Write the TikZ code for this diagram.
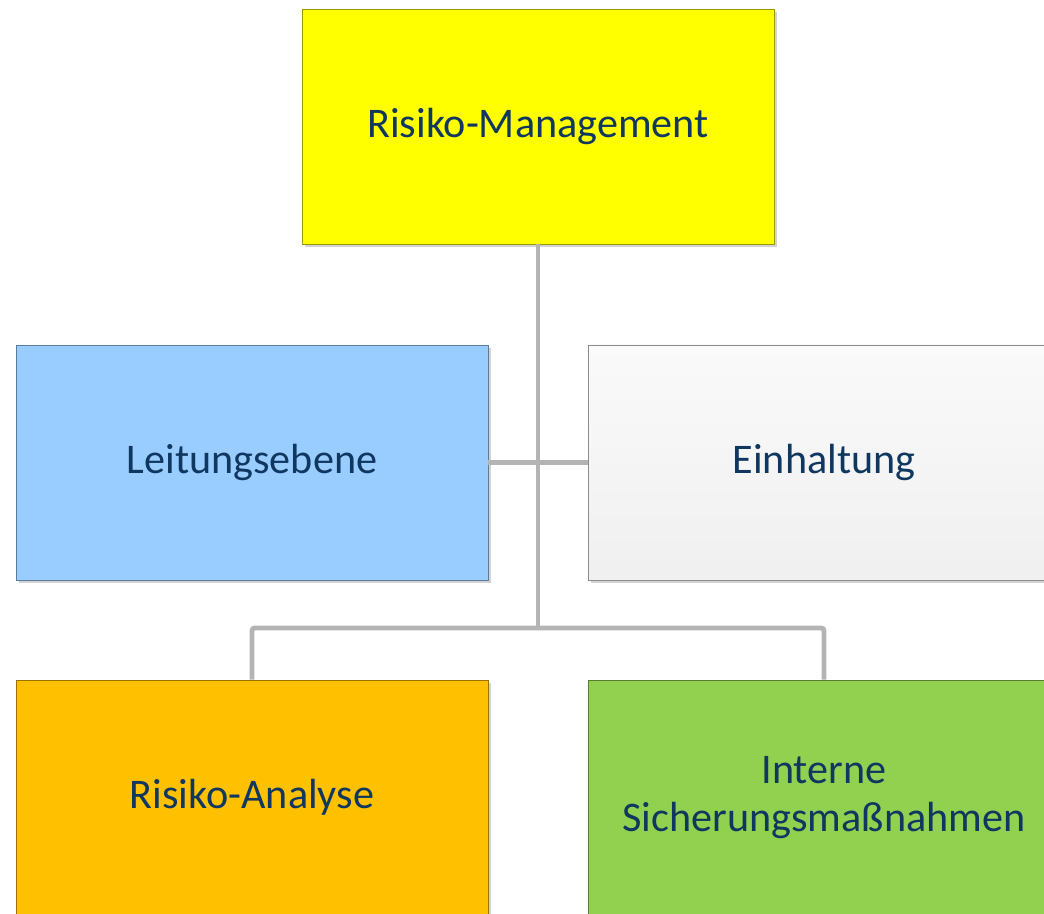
\documentclass[tikz,border=0pt]{standalone}
\usepackage{fontspec}
\setmainfont{Carlito}
\usetikzlibrary{shadows}
\definecolor{navytext}{RGB}{16,55,96}
\definecolor{linkgray}{RGB}{180,180,180}
\definecolor{riskyellow}{RGB}{255,255,0}
\definecolor{leadblue}{RGB}{153,204,255}
\definecolor{analysisorange}{RGB}{255,192,0}
\definecolor{controlgreen}{RGB}{146,208,80}

\begin{document}
\begin{tikzpicture}[
  orgbox/.style={rectangle,minimum width=11.8cm,minimum height=5.875cm,
    align=center,font=\fontsize{30}{34}\selectfont,text=navytext,
    drop shadow={shadow xshift=0.07cm,shadow yshift=-0.07cm,opacity=0.35}},
  link/.style={draw=linkgray,line width=3.5pt,rounded corners=2pt}
]
\useasboundingbox (0,0) rectangle (26.1,22.825);

\coordinate (hub) at (13.45,7.125);

\node[orgbox,fill=riskyellow,draw=riskyellow!60!black] (mgmt) at (13.45,19.6625) {Risiko-Management};

\node[orgbox,fill=leadblue,draw=leadblue!60!black] (lead) at (6.3,11.2625) {Leitungsebene};
\node[orgbox,top color=white!98!black,bottom color=white!94!black,draw=black!45] (comply) at (20.6,11.2625) {Einhaltung};

\node[orgbox,fill=analysisorange,draw=analysisorange!60!black] (analysis) at (6.3,2.8875) {Risiko-Analyse};
\node[orgbox,fill=controlgreen,draw=controlgreen!60!black] (controls) at (20.6,2.8875) {Interne\\Sicherungsmaßnahmen};

\draw[link] (mgmt.south) -- (hub);
\draw[link] (lead.east) -- (comply.west);
\draw[link] (analysis.north) |- (hub) -| (controls.north);

\end{tikzpicture}
\end{document}
